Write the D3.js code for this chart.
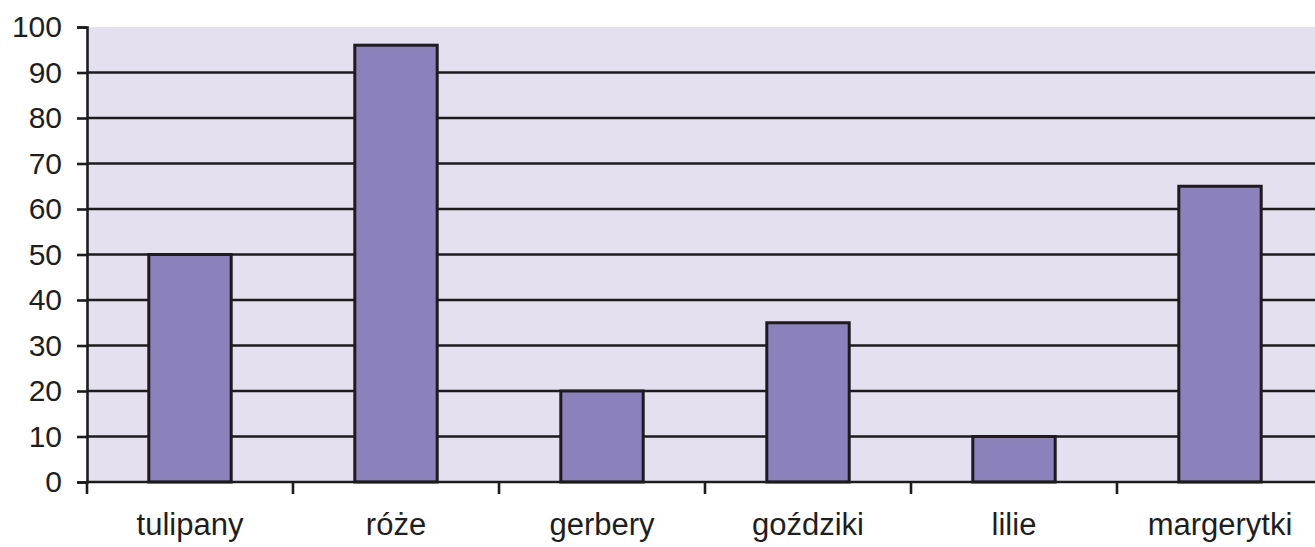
<!DOCTYPE html>
<html>
<head>
<meta charset="utf-8">
<script src="https://cdn.jsdelivr.net/npm/d3@7"></script>
<style>
  body { margin: 0; background: #fff; }
  svg { display: block; }
  text { font-family: Arial, "Liberation Sans", sans-serif; fill: #1e1e1e; }
</style>
</head>
<body>
<svg id="chart" width="1315" height="547"></svg>
<script>
// data
var categories = ['tulipany', 'róże', 'gerbery', 'goździki', 'lilie', 'margerytki'];
var values = [50, 96, 20, 35, 10, 65];
var yTicks = [0, 10, 20, 30, 40, 50, 60, 70, 80, 90, 100];

var svg = d3.select('#chart');
// note: "top" is taken by window.top, so plot edges get their own names
var plotL = 87, plotR = 1323, plotT = 27, plotB = 482;

var x = d3.scaleBand().domain(categories).range([plotL, plotR]).paddingInner(0.6).paddingOuter(0.3);
var xb = d3.scaleBand().domain(categories).range([plotL, plotR]);
var y = d3.scaleLinear().domain([0, 100]).range([plotB, plotT]);

// plot background
svg.append('rect')
  .attr('x', plotL).attr('y', plotT)
  .attr('width', plotR - plotL).attr('height', plotB - plotT)
  .attr('fill', '#e4e0f0');

// gridlines
svg.append('g').selectAll('line')
  .data(yTicks.filter(function(d){ return d > 0 && d < 100; }))
  .enter().append('line')
  .attr('x1', plotL).attr('x2', plotR)
  .attr('y1', function(d){ return y(d); }).attr('y2', function(d){ return y(d); })
  .attr('stroke', '#1c1c1c').attr('stroke-width', 2.6);

// bars
svg.append('g').selectAll('rect')
  .data(values)
  .enter().append('rect')
  .attr('x', function(d, i){ return x(categories[i]); })
  .attr('y', function(d){ return y(d); })
  .attr('width', x.bandwidth())
  .attr('height', function(d){ return y(0) - y(d); })
  .attr('fill', '#8b82bc')
  .attr('stroke', '#1e1a1e').attr('stroke-width', 3);

// y axis
var yAxis = svg.append('g').attr('transform', 'translate(' + plotL + ',0)')
  .call(d3.axisLeft(y).tickValues(yTicks).tickSize(10).tickPadding(15).tickFormat(d3.format('d')));
yAxis.select('.domain').attr('stroke', '#1c1c1c').attr('stroke-width', 2.6);
yAxis.selectAll('.tick line').attr('stroke', '#1c1c1c').attr('stroke-width', 2.6);
yAxis.selectAll('.tick text').attr('font-size', 30).attr('fill', '#1e1e1e').style('font-family', 'Arial, "Liberation Sans", sans-serif');

// x axis
var xAxis = svg.append('g').attr('transform', 'translate(0,' + plotB + ')');
xAxis.append('line')
  .attr('x1', plotL).attr('x2', plotR).attr('y1', 0).attr('y2', 0)
  .attr('stroke', '#1c1c1c').attr('stroke-width', 2.6);
xAxis.selectAll('.sep')
  .data(categories)
  .enter().append('line')
  .attr('class', 'sep')
  .attr('x1', function(d){ return xb(d); }).attr('x2', function(d){ return xb(d); })
  .attr('y1', 0).attr('y2', 12)
  .attr('stroke', '#1c1c1c').attr('stroke-width', 2.6);
xAxis.selectAll('text')
  .data(categories)
  .enter().append('text')
  .attr('x', function(d){ return x(d) + x.bandwidth() / 2; })
  .attr('y', 53)
  .attr('text-anchor', 'middle')
  .attr('font-size', 31)
  .text(function(d){ return d; });
</script>
</body>
</html>
